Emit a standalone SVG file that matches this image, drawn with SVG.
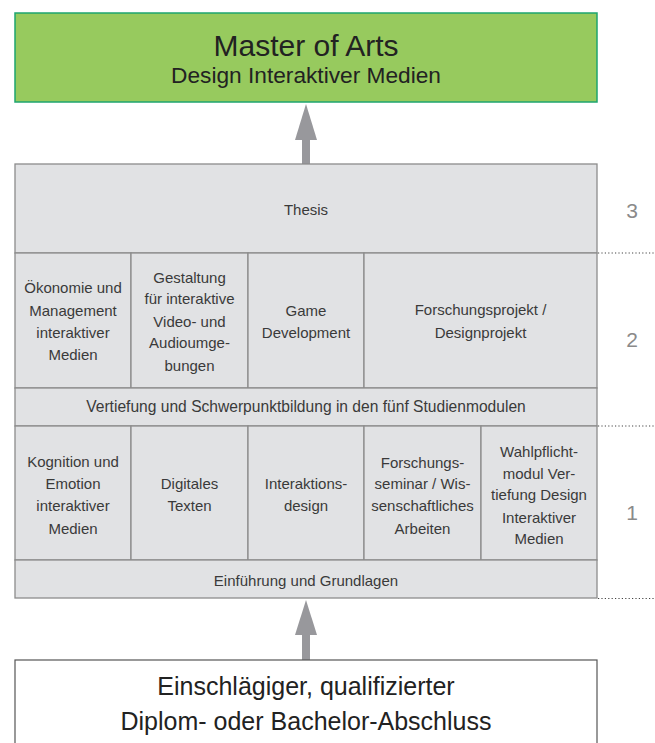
<svg xmlns="http://www.w3.org/2000/svg" width="655" height="743" viewBox="0 0 655 743">
<style>
text{font-family:"Liberation Sans",Arial,sans-serif;fill:#3a3a3a;text-anchor:middle}
.cell{fill:#e1e2e4;stroke:#8c8c8c;stroke-width:1.3}
.t{font-size:15px}
.num{font-size:21px;fill:#8a8a8a}
.dot{stroke:#444;stroke-width:1.2;stroke-dasharray:1.2 2.2;fill:none}
.arrow{fill:#98989c}
.big{font-size:25px;fill:#222}
</style>
<g id="master">
<rect x="15" y="13" width="582" height="89" fill="#97ca5e" stroke="#1ea56f" stroke-width="1.5"/>
<text x="306" y="56" style="font-size:30px;fill:#222">Master of Arts</text>
<text x="306" y="83" style="font-size:22.7px;fill:#222">Design Interaktiver Medien</text>
</g>
<g id="connectors">
<rect class="arrow" x="302" y="139" width="8" height="25"/>
<polygon class="arrow" points="295,140 317,140 306,104"/>
<rect class="arrow" x="302" y="634" width="8" height="26"/>
<polygon class="arrow" points="295,635 317,635 306,600"/>
<line class="dot" x1="598" y1="253" x2="655" y2="253"/>
<line class="dot" x1="598" y1="426" x2="655" y2="426"/>
<line class="dot" x1="598" y1="598.5" x2="655" y2="598.5"/>
</g>
<g id="thesis">
<rect class="cell" x="15" y="164" width="582" height="89"/>
<text class="t" x="306" y="215">Thesis</text>
</g>
<g id="oekonomie">
<rect class="cell" x="15" y="253" width="116" height="135"/>
<text class="t" x="73" y="293">Ökonomie und</text>
<text class="t" x="73" y="315.5">Management</text>
<text class="t" x="73" y="338">interaktiver</text>
<text class="t" x="73" y="360">Medien</text>
</g>
<g id="gestaltung">
<rect class="cell" x="131" y="253" width="117" height="135"/>
<text class="t" x="189.5" y="282.5">Gestaltung</text>
<text class="t" x="189.5" y="304">für interaktive</text>
<text class="t" x="189.5" y="326.5">Video- und</text>
<text class="t" x="189.5" y="348">Audioumge-</text>
<text class="t" x="189.5" y="370.5">bungen</text>
</g>
<g id="game">
<rect class="cell" x="248" y="253" width="116" height="135"/>
<text class="t" x="306" y="315.5">Game</text>
<text class="t" x="306" y="338">Development</text>
</g>
<g id="forschungsprojekt">
<rect class="cell" x="364" y="253" width="233" height="135"/>
<text class="t" x="480.5" y="315">Forschungsprojekt /</text>
<text class="t" x="480.5" y="338">Designprojekt</text>
</g>
<g id="vertiefung">
<rect class="cell" x="15" y="388" width="582" height="38"/>
<text class="t" x="306" y="412" style="font-size:15.6px">Vertiefung und Schwerpunktbildung in den fünf Studienmodulen</text>
</g>
<g id="kognition">
<rect class="cell" x="15" y="426" width="116" height="134"/>
<text class="t" x="73" y="467">Kognition und</text>
<text class="t" x="73" y="489">Emotion</text>
<text class="t" x="73" y="511">interaktiver</text>
<text class="t" x="73" y="533.5">Medien</text>
</g>
<g id="digitales">
<rect class="cell" x="131" y="426" width="117" height="134"/>
<text class="t" x="189.5" y="489">Digitales</text>
<text class="t" x="189.5" y="511">Texten</text>
</g>
<g id="interaktionsdesign">
<rect class="cell" x="248" y="426" width="116" height="134"/>
<text class="t" x="306" y="489">Interaktions-</text>
<text class="t" x="306" y="511">design</text>
</g>
<g id="forschungsseminar">
<rect class="cell" x="364" y="426" width="117" height="134"/>
<text class="t" x="422.5" y="468">Forschungs-</text>
<text class="t" x="422.5" y="489">seminar / Wis-</text>
<text class="t" x="422.5" y="511">senschaftliches</text>
<text class="t" x="422.5" y="533.5">Arbeiten</text>
</g>
<g id="wahlpflicht">
<rect class="cell" x="481" y="426" width="116" height="134"/>
<text class="t" x="539" y="457">Wahlpflicht-</text>
<text class="t" x="539" y="478.5">modul Ver-</text>
<text class="t" x="539" y="500">tiefung Design</text>
<text class="t" x="539" y="522.5">Interaktiver</text>
<text class="t" x="539" y="543.5">Medien</text>
</g>
<g id="einfuehrung">
<rect class="cell" x="15" y="560" width="582" height="38"/>
<text class="t" x="306" y="586">Einführung und Grundlagen</text>
</g>
<g id="semesters">
<text class="num" x="632" y="218">3</text>
<text class="num" x="632" y="347">2</text>
<text class="num" x="632" y="520">1</text>
</g>
<g id="abschluss">
<rect x="15" y="660" width="582" height="100" fill="#fff" stroke="#555" stroke-width="1.2"/>
<text class="big" x="306" y="695">Einschlägiger, qualifizierter</text>
<text class="big" x="306" y="730">Diplom- oder Bachelor-Abschluss</text>
</g>
</svg>
